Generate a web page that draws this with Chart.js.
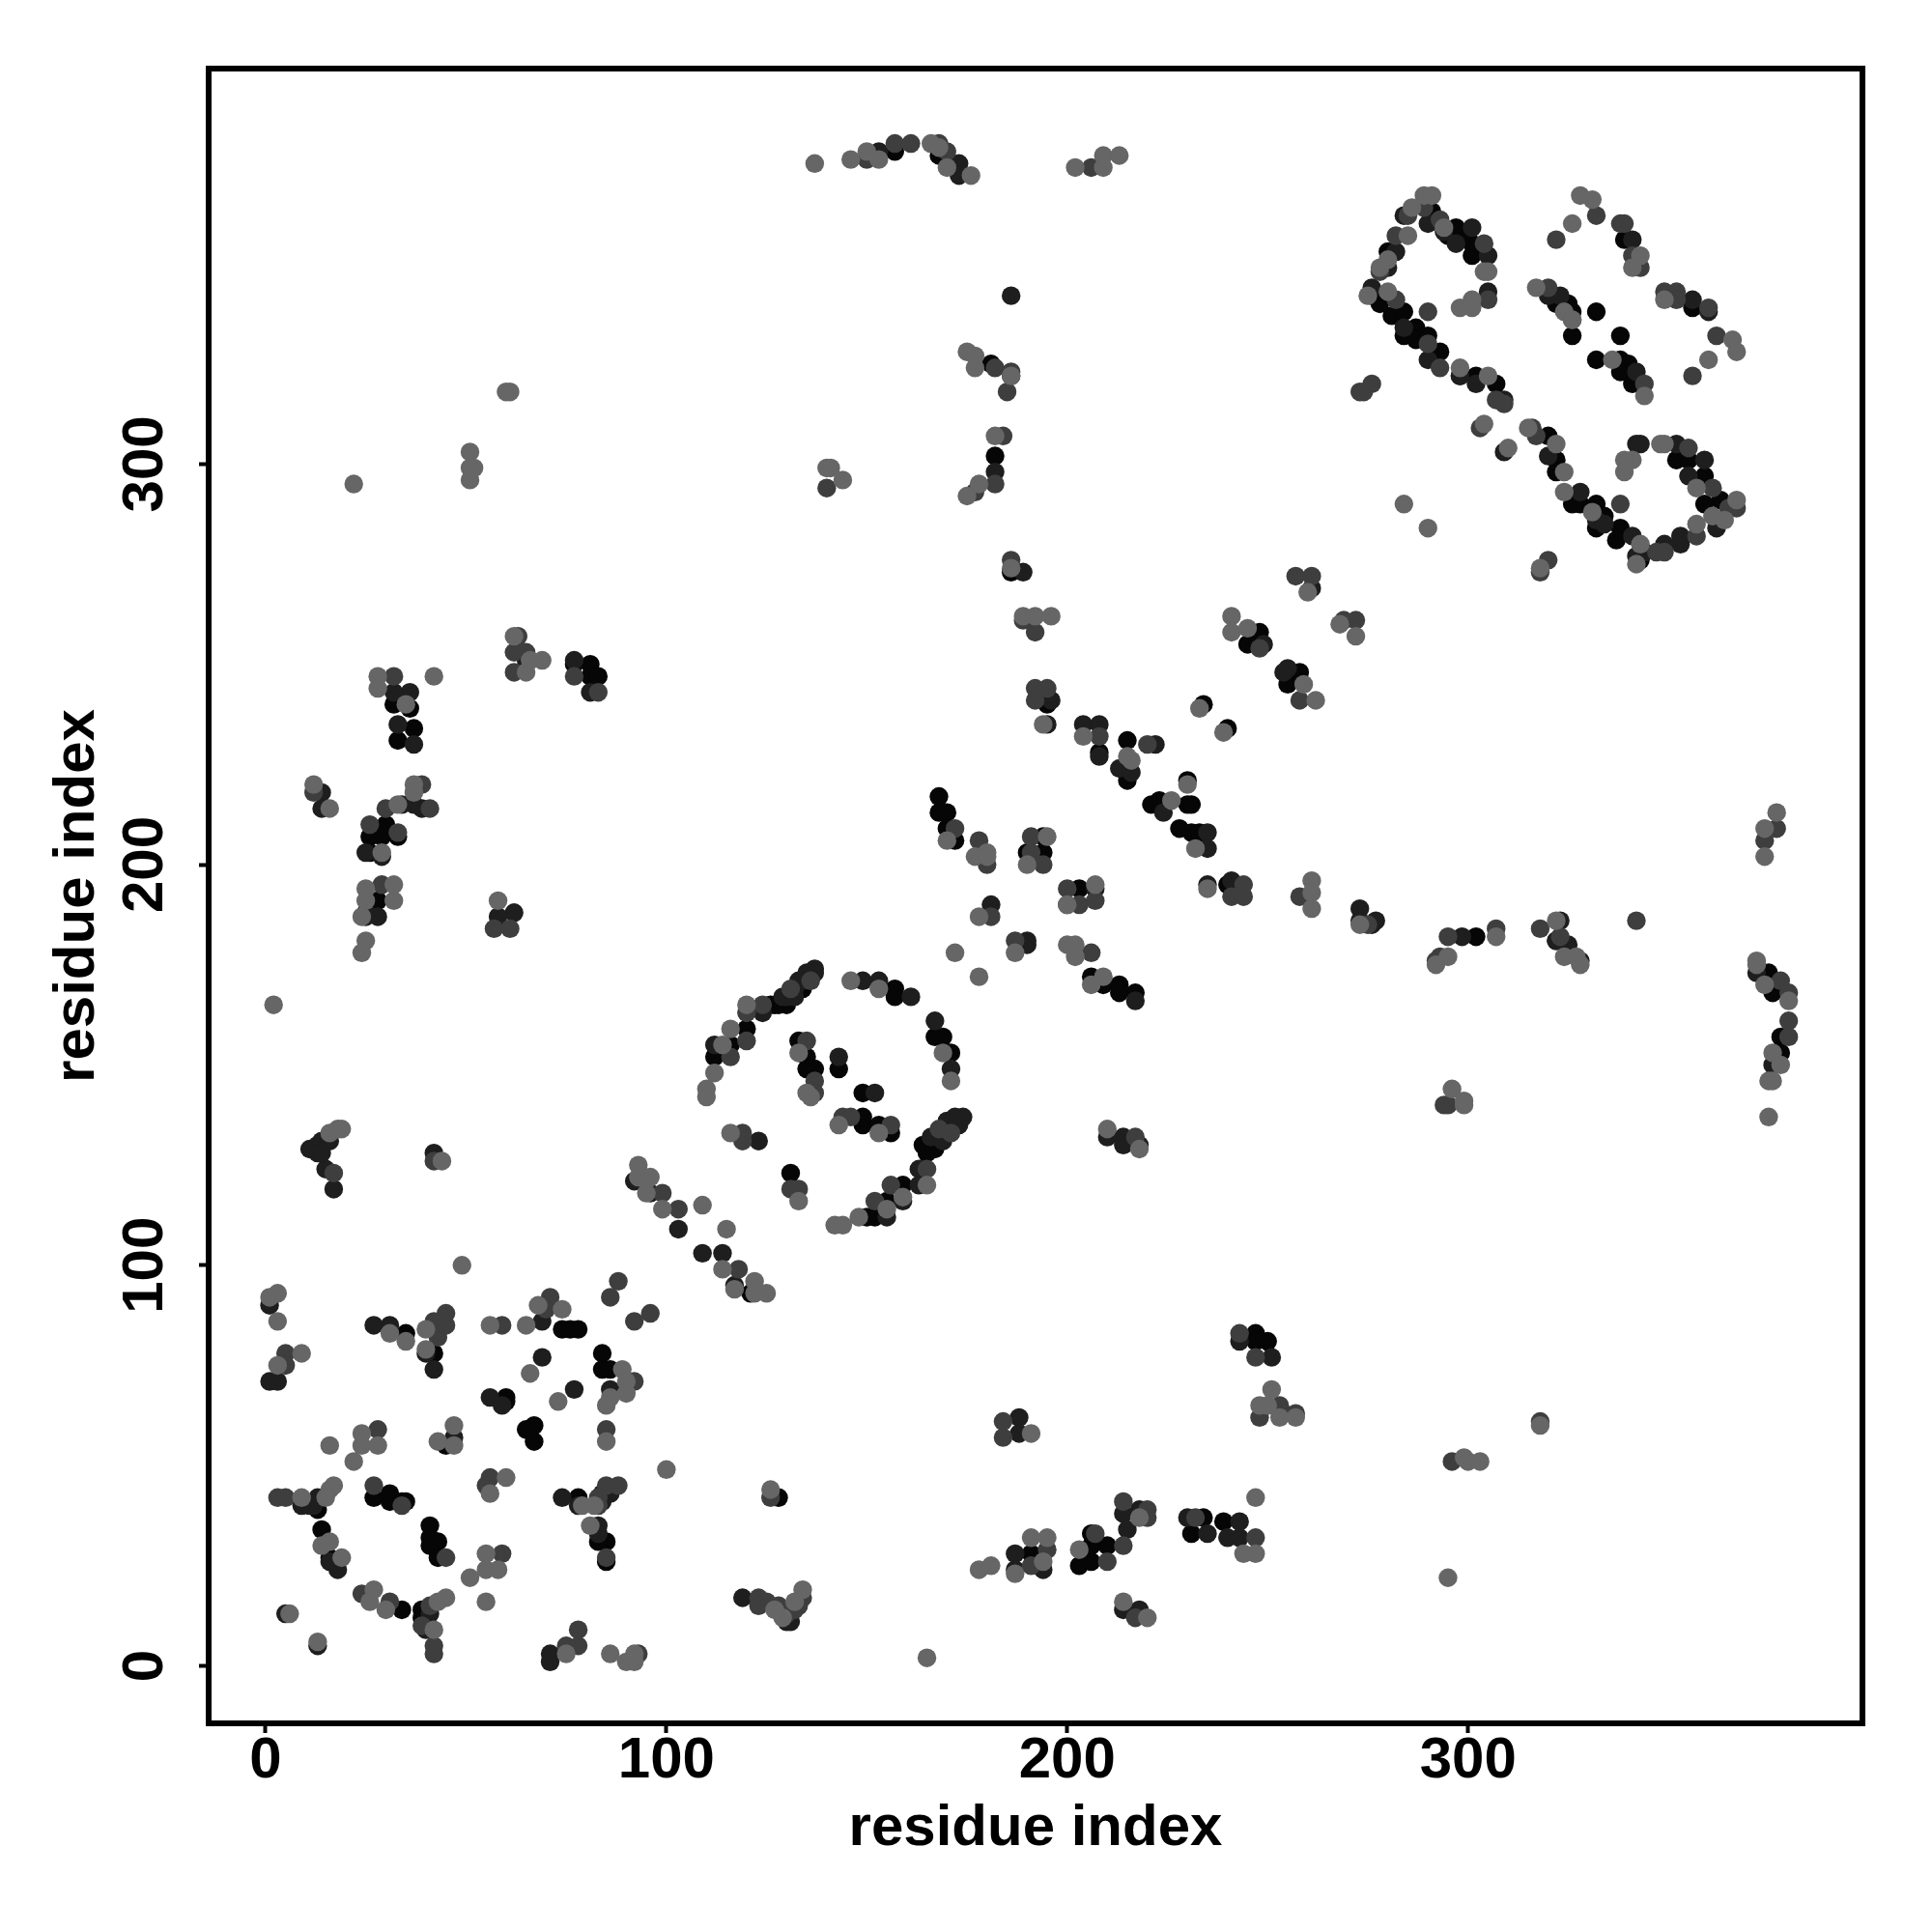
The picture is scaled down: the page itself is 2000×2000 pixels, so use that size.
<!DOCTYPE html>
<html>
<head>
<meta charset="utf-8">
<script src="https://cdn.jsdelivr.net/npm/chart.js@4"></script>
<style>
html, body { margin: 0; background: #fff; }
canvas { display: block; }
</style>
</head>
<body>
<canvas id="contacts" width="2000" height="2000"></canvas>
<script>
const tick_values = [0, 100, 200, 300];
const axis_name = 'residue index';

const light_pts = [[3,93],[1,92],[3,86],[49,100],[9,78],[3,75],[31,83],[35,81],[40,84],[40,79],[56,85],[65,85],[68,90],[74,89],[89,74],[90,71],[90,68],[86,67],[85,65],[66,73],[73,66],[85,56],
[16,55],[24,58],[24,55],[28,55],[22,51],[47,60],[43,56],[47,55],[60,47],[56,43],[100,49],[9,42],[17,45],[16,44],[15,42],[16,31],[14,30],[19,27],[55,28],[55,24],[58,24],[51,22],[55,16],[79,40],[82,40],[81,35],
[27,19],[26,16],[30,14],[45,17],[43,16],[42,9],[6,13],[13,6],[75,3],[86,3],[90,1],[92,1],[92,3],
[62,257],[65,248],[66,251],[69,251],[42,247],[28,247],[28,244],[35,240],[12,220],[16,214],[37,220],[37,218],[33,215],[29,203],[25,194],[32,195],[25,191],[32,191],[24,187],[25,181],[24,178],[58,191],
[170,206],[177,202],[180,203],[180,202],[195,207],[190,200],[207,195],[200,190],[178,187],[187,178],[172,178],[178,172],[200,180],[202,180],[202,177],[206,170],[209,172],[226,216],[216,226],[230,220],[232,204],[235,194],[261,196],[261,193],[261,189],[210,134],[218,129],[204,232],[215,227],
[120,165],[116,159],[114,155],[112,148],[110,144],[110,142],[135,143],[136,142],[133,153],[143,135],[153,133],[116,133],[153,169],[146,171],[169,153],[171,146],[165,120],[159,117],[155,114],[148,112],[133,116],[142,110],[144,110],
[93,125],[93,122],[96,122],[95,118],[99,114],[109,115],[115,109],[114,99],[117,94],[122,96],[122,93],[125,93],
[137,375],[146,376],[150,378],[153,376],[166,380],[168,379],[170,374],[176,372],[202,374],[209,374],[209,377],[213,377],
[175,328],[177,327],[177,324],[186,322],[182,307],[178,295],[175,292],[186,274],[189,262],[192,262],[196,262],[194,235],
[260,268],[241,262],[241,258],[245,259],[268,260],[272,257],[259,245],[262,241],[233,239],[239,233],
[307,182],[295,177],[292,175],[322,186],[324,177],[327,177],[328,175],[296,144],[299,141],[299,140],[372,176],[372,175],[374,170],[380,166],[376,153],[378,150],[375,146],[376,146],[375,137],[377,213],[374,209],[374,202],
[178,24],[181,25],[187,23],[191,32],[195,32],[194,26],[203,29],[218,37],[244,28],[247,28],[247,42],[251,69],[248,65],[250,65],[253,62],[257,62],[191,58],[214,16],[220,12],
[289,367],[291,367],[286,364],[294,359],[305,348],[304,348],[285,357],[280,351],[278,349],[275,342],[280,343],[298,339],[301,341],[301,339],[298,324],[305,322],[304,310],[310,304],
[317,344],[324,338],[326,336],[336,326],[344,317],[328,367],[331,366],[326,360],[343,352],[341,349],[349,341],[366,331],[367,328],[360,326],
[315,309],[322,305],[324,298],[324,293],[331,288],[343,280],[342,275],[341,301],[339,301],[339,298],[348,305],[349,305],[357,294],[361,287],[367,291],[364,286],[357,285],[284,290],[290,284],[318,274],
[22,295],[51,303],[51,299],[51,296],[52,299],[60,318],[61,318],[140,299],[141,299],[144,296],[2,165],[16,133],[18,134],[19,134],[44,126],[126,44],[134,19],[165,2],[295,22],[299,52],[300,51],[303,51],[318,60],[273,185],[132,16],[129,12],[127,14]];

const mid_pts = [[5,78],[5,75],[45,88],[42,86],[45,85],[43,82],[59,85],[71,92],[70,89],[88,96],[86,92],[96,88],[92,86],[92,71],[85,59],[28,59],[56,47],[55,45],[3,42],[5,42],[85,45],[88,45],[83,42],[83,40],[27,45],[34,40],[45,27],[59,28],[85,27],[24,18],[31,16],[41,15],[39,10],[42,5],[42,3],[78,9],[78,5],[75,5],[93,3],
[63,257],[62,253],[65,253],[62,248],[77,247],[83,243],[32,247],[12,218],[39,220],[41,214],[30,214],[26,210],[33,208],[29,195],[57,184],[61,184],
[172,209],[178,206],[180,200],[191,207],[191,203],[194,200],[200,194],[200,190],[203,190],[207,191],[181,187],[187,181],[206,178],[244,195],[241,192],[244,192],[258,192],[217,132],[248,254],[208,232],[220,230],
[120,156],[124,165],[120,163],[116,152],[135,156],[137,146],[137,143],[144,137],[146,137],[156,135],[119,133],[119,131],[165,124],[156,120],[152,116],[131,119],[133,119],[131,169],[136,171],[168,134],[171,133],
[99,118],[103,114],[118,99],[150,376],[157,380],[161,380],[168,380],[170,378],[206,374],
[182,324],[185,318],[184,307],[182,295],[177,293],[186,276],[192,258],[189,261],[192,244],[195,244],[192,241],[186,323],
[257,272],[261,272],[269,261],[272,261],[258,241],[295,182],[307,184],[318,184],[323,182],[293,177],[292,176],[342,186],[294,140],[295,140],[378,171],[380,168],[380,161],[380,157],[377,209],[374,206],
[195,29],[191,25],[207,33],[210,26],[214,41],[220,39],[220,37],[214,30],[232,37],[247,32],[243,83],[247,77],[253,65],[248,62],[257,63],[184,61],[184,57],[217,12],
[289,364],[285,362],[293,361],[304,355],[282,357],[278,348],[282,341],[290,330],[293,324],[290,338],[305,341],[307,316],[309,315],[303,309],
[320,344],[326,336],[344,320],[332,362],[322,356],[338,360],[339,360],[341,352],[343,349],[349,343],[352,343],[352,341],[360,339],[362,332],[356,322],
[316,309],[317,307],[338,290],[355,304],[361,294],[365,289],[367,289],[357,282],[349,278],[347,278],[320,276],[318,273],[276,320],[273,318],[274,318],
[140,294],[42,126],[17,123],[123,17],[123,15],[128,15],[132,14],[134,17],[126,42],[296,51],[318,61],[275,185],[130,13],[133,15],[125,16]];

const dark_pts = [[1,90],[1,71],[3,71],[27,85],[31,85],[42,84],[42,74],[69,86],[86,69],[69,77],[77,69],[56,67],[59,65],[47,57],[40,78],[9,40],[13,42],[12,40],[11,40],[74,42],[78,40],[84,41],[86,43],[84,43],[83,35],[83,33],[16,26],[18,24],[41,13],[40,9],[5,13],[13,5],[71,3],[71,1],
[65,251],[77,251],[81,243],[32,243],[36,243],[33,235],[37,230],[14,218],[14,214],[39,214],[37,215],[34,215],[25,203],[29,202],[25,188],[25,187],[28,187],[62,188],[58,187],
[235,208],[235,204],[235,195],[241,196],[224,213],[208,227],[213,224],[216,223],[181,190],[190,181],[190,180],[217,166],[210,132],[214,132],[214,130],[218,130],[207,194],[204,235],[208,235],[222,230],
[137,174],[137,173],[135,172],[134,171],[132,169],[130,167],[124,163],[112,155],[143,152],[152,143],[123,131],[161,167],[149,171],[153,171],[167,161],[171,149],[174,137],[172,137],[170,135],[168,133],[163,124],[163,120],[159,116],[155,112],[135,173],[133,171],[129,167],[132,167],[170,136],[166,132],[173,135],[169,131],
[92,121],[95,121],[96,118],[103,109],[109,103],[114,103],[117,95],[153,378],[173,375],[173,372],
[186,322],[182,298],[189,273],[196,241],[195,235],[186,342],
[261,269],[249,255],[255,249],[254,248],[298.5,182],[323,186],[325,180],[328,176],[322,181],[372,173],[376,150],
[187,28],[187,24],[194,24],[214,38],[218,39],[215,34],[230,37],[235,33],[243,36],[240,32],[243,32],[243,81],[251,77],[254,63],[188,62],[188,58],[214,14],[218,14],
[284,362],[290,360],[301,359],[297,355],[305,352],[282,353],[280,349],[276,344],[284,334],[290,326],[294,358],[305,343],[298,322],[302,320],[309,316],[309,303],
[320,342],[323,342],[342,323],[341,356],[356,341],[360,338],
[320,302],[328,293],[332,286],[334,285],[341,282],[344,278],[342,277],[342,305],[343,305],[352,305],[359,301],[355,297],[362,284],[353,282],[353,280],[349,280],
[11,129],[13,130],[14,131],[16,131],[13,128],[14,128],[15,124],[17,119],[42,128],[119,17],[131,13],[130,11],[129,13],[131,11],[273,189],[273,186],[277,186],[276,185]];

const black_pts = [[35,83],[42,78],[74,84],[76,84],[78,84],[84,78],[84,74],[86,74],[60,67],[60,66],[65,59],[67,60],[67,56],[45,55],[13,39],[27,42],[31,43],[31,41],[34,41],[35,41],[41,35],[41,32],[43,31],[41,30],[43,27],[14,34],[16,27],[78,42],[85,31],[83,31],[85,26],[34,14],[39,14],[39,12],
[77,250],[81,250],[81,247],[83,247],[32,240],[36,239],[33,231],[37,234],[30,210],[26,207],[29,207],[33,207],[26,203],[28,191],
[168,217],[168,213],[170,213],[170,209],[172,206],[190,203],[194,203],[194,207],[203,194],[206,172],[209,170],[213,170],[213,168],[217,168],[230,221],[221,215],[223,216],[230,215],[231,215],[215,221],[228,209],[231,208],[233,208],[240,195],[208,228],[215,231],
[136,172],[133,170],[131,168],[129,166],[128,165],[127,165],[126,165],[120,159],[116,155],[112,152],[133,156],[135,152],[135,149],[137,149],[143,149],[149,143],[149,137],[149,135],[153,135],[156,133],[157,169],[157,167],[167,157],[169,157],[171,153],[171,136],[169,134],[167,132],[165,130],[165,128],[159,120],[155,116],[152,112],[150,112],[131,123],[121,93],[134,169],[130,165],[164,130],[167,129],
[157,378],[168,377],[181,325],[182,302],[186,273],[195,240],
[248,258],[245,255],[258,248],[255,245],[234,240],[240,234],[302,182],[322,181],[375,173],[376,168],[378,157],[378,153],
[191,28],[203,25],[206,26],[206,30],[210,30],[206,33],[234,37],[231,33],[239,36],[247,83],[247,81],[250,81],
[291,363],[297,359],[301,355],[301,352],[295,357],[299,357],[280,353],[276,342],[278,340],[281,337],[284,338],[284,332],[287,334],[287,331],[290,332],[293,328],[298,322],[302,322],[307,320],
[322,340],[325,340],[326,338],[326,332],[332,338],[338,332],[332,326],[338,326],[340,325],[338,323],[341,320],[339,356],[356,339],
[320,307],[322,301],[322,298],[326,290],[328,290],[332,290],[334,287],[332,284],[338,284],[337,281],[343,276],[352,301],[355,301],[359,297],[359,290],[363,291],[128,42]];

const shades = [
    { pts: light_pts, color: '#666666' },
    { pts: mid_pts, color: '#3e3e3e' },
    { pts: dark_pts, color: '#1e1e1e' },
    { pts: black_pts, color: '#060606' }
];

// R style box round the plot
const box_plugin = {
    id: 'boxFrame',
    afterDatasetsDraw(chart) {
        const a = chart.chartArea;
        const ctx = chart.ctx;
        ctx.save();
        ctx.strokeStyle = '#000';
        ctx.lineWidth = 6;
        ctx.strokeRect(a.left, a.top, a.right - a.left, a.bottom - a.top);
        ctx.restore();
    }
};

const axis_font = { family: '"Liberation Sans"', size: 60, weight: 'bold', lineHeight: 1 };
const set_ticks = (axis) => { axis.ticks = tick_values.map((v) => ({ value: v })); };

new Chart(document.getElementById('contacts'), {
    type: 'scatter',
    data: {
        datasets: shades.map((s) => ({
            data: s.pts.map((p) => ({ x: p[0], y: p[1] })),
            backgroundColor: s.color,
            borderWidth: 0,
            pointRadius: 9.7
        }))
    },
    plugins: [box_plugin],
    options: {
        responsive: false,
        animation: false,
        events: [],
        layout: { padding: { top: 71, right: 72, left: 0, bottom: 0 } },
        plugins: { legend: { display: false }, tooltip: { enabled: false } },
        scales: {
            x: {
                min: -14.2,
                max: 398.4,
                afterBuildTicks: set_ticks,
                afterFit: (s) => { s.height = 216; },
                border: { display: false },
                grid: { drawOnChartArea: false, tickLength: 10, tickWidth: 4, tickColor: '#000' },
                ticks: { color: '#000', font: axis_font, padding: -1, maxRotation: 0 },
                title: { display: true, text: axis_name, color: '#000', font: axis_font, padding: { top: 0, bottom: 77 } }
            },
            y: {
                min: -14.35,
                max: 398.7,
                afterBuildTicks: set_ticks,
                afterFit: (s) => { s.width = 216; },
                border: { display: false },
                grid: { drawOnChartArea: false, tickLength: 10, tickWidth: 4, tickColor: '#000' },
                ticks: { color: '#000', font: axis_font, padding: 4.5, minRotation: 90, maxRotation: 90, crossAlign: 'center' },
                title: { display: true, text: axis_name, color: '#000', font: axis_font, padding: { top: 50, bottom: 0 } }
            }
        }
    }
});
</script>
</body>
</html>
